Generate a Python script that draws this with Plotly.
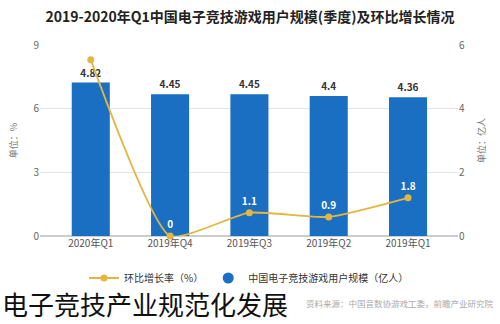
import plotly.graph_objects as go

categories = ["2020年Q1", "2019年Q4", "2019年Q3", "2019年Q2", "2019年Q1"]
users = [4.82, 4.45, 4.45, 4.4, 4.36]
growth = [8.3, 0, 1.1, 0.9, 1.8]
growth_labels = ["", "0", "1.1", "0.9", "1.8"]

FONT = "Noto Sans CJK SC"
BLUE = "#1b6fc2"
GOLD = "#e4b640"

fig = go.Figure()
fig.add_trace(go.Bar(
    x=categories, y=users, name="中国电子竞技游戏用户规模（亿人）",
    marker=dict(color=BLUE, line=dict(width=0)), width=0.48,
    text=[str(v) for v in users], textposition="outside",
    textfont=dict(size=10, color="#333333", family=FONT, weight="bold"),
    cliponaxis=False, yaxis="y", showlegend=False,
))
# legend entry with round marker for the bar series
fig.add_trace(go.Scatter(
    x=[None], y=[None], mode="markers", name="中国电子竞技游戏用户规模（亿人）",
    marker=dict(color=BLUE, size=11, symbol="circle"), legendrank=2,
))
fig.add_trace(go.Scatter(
    x=categories, y=growth, name="环比增长率（%）", yaxis="y2",
    mode="lines+markers+text", line=dict(color=GOLD, width=1.8, shape="spline", smoothing=0.5),
    marker=dict(color=GOLD, size=7),
    text=growth_labels, textposition="top center",
    textfont=dict(size=10, color="white", family=FONT, weight="bold"),
    cliponaxis=False, legendrank=1,
))

fig.update_layout(
    width=500, height=324,
    margin=dict(l=40, r=42, t=45, b=88),
    paper_bgcolor="white", plot_bgcolor="white",
    font=dict(family=FONT, color="#666666", size=10),
    title=dict(text="2019-2020年Q1中国电子竞技游戏用户规模(季度)及环比增长情况",
               x=0.5, xanchor="center", y=1 - 17 / 324, yanchor="middle",
               font=dict(size=14, color="#222222", family=FONT, weight="bold")),
    xaxis=dict(range=[-0.64, 4.63], showgrid=False, showline=False, ticks="",
               tickfont=dict(size=10, color="#555555")),
    yaxis=dict(range=[0, 6], dtick=2, side="right", showgrid=True, gridcolor="#e3e3e3",
               zeroline=True, zerolinecolor="#cccccc", showline=False,
               title=dict(text="单位：亿人", font=dict(size=9, color="#777777"), standoff=14),
               tickfont=dict(size=10, color="#666666")),
    yaxis2=dict(range=[0, 9], dtick=3, side="left", overlaying="y", showgrid=False,
                zeroline=False, showline=False,
                title=dict(text="单位：%", font=dict(size=9, color="#777777"), standoff=14),
                tickfont=dict(size=10, color="#666666")),
    showlegend=True,
    legend=dict(orientation="h", x=0.5, xanchor="center", y=-42 / 191, yanchor="middle",
                font=dict(size=10, color="#333333"), traceorder="normal"),
    annotations=[
        dict(text="资料来源：中国音数协游戏工委，前瞻产业研究院",
             xref="paper", yref="paper",
             x=(496 - 40) / 418, y=(236 - 303) / 191, xanchor="right", yanchor="middle",
             showarrow=False, font=dict(size=8.5, color="#aaaaaa")),
        dict(text="电子竞技产业规范化发展", xref="paper", yref="paper",
             x=(0 - 40) / 418, y=(236 - 303) / 191, xanchor="left", yanchor="middle",
             showarrow=False, font=dict(size=26, color="#111111", family=FONT)),
    ],
)

fig.write_html("out.html")
